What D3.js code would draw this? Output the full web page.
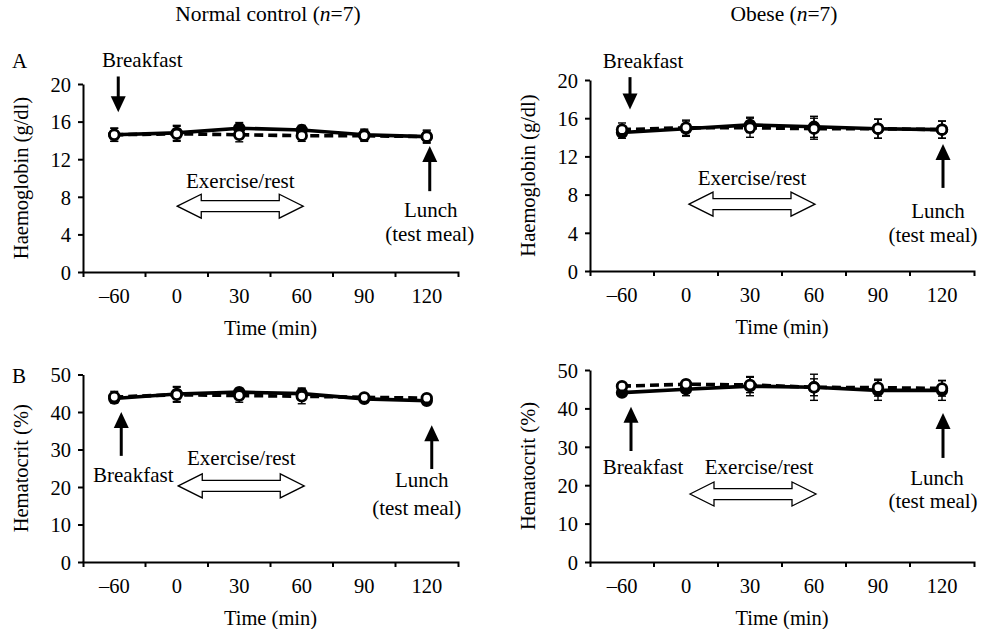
<!DOCTYPE html>
<html>
<head>
<meta charset="utf-8">
<script src="https://cdn.jsdelivr.net/npm/d3@7"></script>
<style>
  body { margin: 0; background: #fff; }
  svg text { font-family: "Liberation Serif", "Times New Roman", serif; fill: #000; }
</style>
</head>
<body>
<div id="chart"></div>
<script>
const times = ["\u201360", "0", "30", "60", "90", "120"];

// haemoglobin (g/dl): solid line = filled circles, dashed line = open circles
const hbNormalSolid = [14.6, 14.8, 15.3, 15.1, 14.6, 14.4];
const hbNormalSolidSd = [0.7, 0.8, 0.6, 0.5, 0.6, 0.7];
const hbNormalDashed = [14.6, 14.7, 14.6, 14.5, 14.5, 14.4];
const hbNormalDashedSd = [0.7, 0.8, 0.75, 0.6, 0.6, 0.6];

const hbObeseSolid = [14.5, 14.9, 15.3, 15.1, 14.9, 14.8];
const hbObeseSolidSd = [0.6, 0.8, 0.8, 1.1, 1.0, 0.9];
const hbObeseDashed = [14.8, 15.0, 15.0, 14.9, 14.9, 14.8];
const hbObeseDashedSd = [0.7, 0.8, 1.0, 1.1, 1.0, 0.9];

// hematocrit (%)
const hctNormalSolid = [43.6, 44.8, 45.3, 44.9, 43.5, 43.0];
const hctNormalSolidSd = [1.2, 2.0, 1.0, 1.5, 0.5, 0.5];
const hctNormalDashed = [44.0, 44.6, 44.4, 44.2, 43.9, 43.7];
const hctNormalDashedSd = [1.5, 2.0, 1.8, 2.0, 0.6, 0.5];

const hctObeseSolid = [44.1, 45.0, 45.8, 45.5, 44.7, 44.7];
const hctObeseSolidSd = [0.5, 1.7, 2.5, 3.4, 2.6, 2.6];
const hctObeseDashed = [45.8, 46.3, 46.1, 45.5, 45.4, 45.2];
const hctObeseDashedSd = [0.5, 1.0, 2.0, 2.2, 2.2, 2.0];

const hbTicks = [0, 4, 8, 12, 16, 20];
const hctTicks = [0, 10, 20, 30, 40, 50];

const svg = d3.select("#chart")
    .append("svg")
    .attr("width", 984)
    .attr("height", 629);

svg.append("text").attr("x", 268).attr("y", 21).attr("text-anchor", "middle")
    .style("font-size", "21.5px")
    .html("Normal control (<tspan font-style='italic'>n</tspan>=7)");
svg.append("text").attr("x", 784).attr("y", 21).attr("text-anchor", "middle")
    .style("font-size", "21.5px")
    .html("Obese (<tspan font-style='italic'>n</tspan>=7)");

svg.append("text").attr("x", 12).attr("y", 68).style("font-size", "21px").text("A");
svg.append("text").attr("x", 12).attr("y", 383).style("font-size", "21px").text("B");

function zip(m, s) {
    return m.map((v, i) => ({ t: times[i], v: v, sd: s[i] }));
}

function drawPanel(p) {
    const x = d3.scaleBand().domain(times).range([p.left, p.right]);
    const y = d3.scaleLinear().domain([0, p.max]).range([p.bottom, p.top]);
    const cx = (t) => x(t) + x.bandwidth() / 2;
    const g = svg.append("g");

    // axes
    const ya = g.append("g")
        .attr("transform", `translate(${p.left},0)`)
        .call(d3.axisLeft(y).tickValues(p.ticks).tickSize(5).tickSizeOuter(0));
    const xa = g.append("g")
        .attr("transform", `translate(0,${p.bottom})`)
        .call(d3.axisBottom(x).tickSizeInner(0).tickSizeOuter(5));
    xa.selectAll(".tick text").attr("y", 31).attr("dy", null);
    ya.selectAll(".tick text").attr("x", -12).attr("dy", "0.36em");
    g.selectAll(".domain").attr("stroke-width", 2);
    g.selectAll(".tick line").attr("stroke-width", 2);
    g.selectAll(".tick text").style("font-size", "20.5px").attr("fill", "#000")
        .style("font-family", "Liberation Serif, serif");

    // boundary ticks between categories
    xa.selectAll(".btick")
        .data(times.slice(1))
        .enter()
        .append("line")
        .attr("x1", (d) => x(d)).attr("x2", (d) => x(d))
        .attr("y1", 0).attr("y2", 5)
        .attr("stroke", "#000").attr("stroke-width", 2);

    g.append("text")
        .attr("transform", `translate(${p.left - 55},${(p.top + p.bottom) / 2}) rotate(-90)`)
        .attr("text-anchor", "middle")
        .style("font-size", "20.5px")
        .text(p.ylabel);
    g.append("text")
        .attr("x", (p.left + p.right) / 2).attr("y", p.bottom + 63)
        .attr("text-anchor", "middle")
        .style("font-size", "20.5px")
        .text("Time (min)");

    const series = [
        { data: zip(p.solid, p.solidSd), dash: null, fill: "#000" },
        { data: zip(p.dashed, p.dashedSd), dash: "9,5", fill: "#fff" }
    ];

    const line = d3.line().x((d) => cx(d.t)).y((d) => y(d.v));

    series.forEach((s) => {
        const eb = g.append("g").attr("stroke", "#000").attr("stroke-width", 1.4);
        eb.selectAll(".bar").data(s.data).enter().append("line")
            .attr("x1", (d) => cx(d.t)).attr("x2", (d) => cx(d.t))
            .attr("y1", (d) => y(d.v - d.sd)).attr("y2", (d) => y(d.v + d.sd));
        eb.selectAll(".capt").data(s.data).enter().append("line")
            .attr("x1", (d) => cx(d.t) - 4).attr("x2", (d) => cx(d.t) + 4)
            .attr("y1", (d) => y(d.v + d.sd)).attr("y2", (d) => y(d.v + d.sd));
        eb.selectAll(".capb").data(s.data).enter().append("line")
            .attr("x1", (d) => cx(d.t) - 4).attr("x2", (d) => cx(d.t) + 4)
            .attr("y1", (d) => y(d.v - d.sd)).attr("y2", (d) => y(d.v - d.sd));
    });

    series.forEach((s) => {
        g.append("path")
            .datum(s.data)
            .attr("d", line)
            .attr("fill", "none")
            .attr("stroke", "#000")
            .attr("stroke-width", 3.6)
            .attr("stroke-dasharray", s.dash);
        g.selectAll(null).data(s.data).enter().append("circle")
            .attr("cx", (d) => cx(d.t)).attr("cy", (d) => y(d.v))
            .attr("r", 4.8)
            .attr("fill", s.fill)
            .attr("stroke", "#000")
            .attr("stroke-width", 2.8);
    });

    // annotations
    const a = p.ann;
    function arrow(xp, yFrom, yTo) {
        const y0 = y(yFrom), y1 = y(yTo);
        const dir = y1 > y0 ? 1 : -1;
        g.append("line").attr("x1", xp).attr("x2", xp)
            .attr("y1", y0).attr("y2", y1 - dir * 12)
            .attr("stroke", "#000").attr("stroke-width", 3);
        g.append("path")
            .attr("d", `M${xp},${y1} L${xp - 7.5},${y1 - dir * 16} L${xp + 7.5},${y1 - dir * 16} Z`)
            .attr("fill", "#000");
    }
    function label(xp, yv, txt, anchor) {
        g.append("text").attr("x", xp).attr("y", y(yv))
            .attr("text-anchor", anchor || "middle")
            .style("font-size", "21px").text(txt);
    }

    arrow(cx(times[0]) + a.bx, a.bFrom, a.bTo);
    label(cx(times[0]) + a.btx, a.bty, "Breakfast");
    arrow(cx(times[5]) + a.lx, a.lFrom, a.lTo);
    label(cx(times[5]) + a.ltx, a.lty, "Lunch");
    label(cx(times[5]) + a.ltx2, a.lty2, "(test meal)");
    label(cx(times[2]) + a.etx, a.ety, "Exercise/rest");

    const mx = cx(times[2]) + a.dx, my = y(a.dy);
    const hl = 63, hd = 24, hh = 12, sh = 5.5;
    g.append("path")
        .attr("d", `M${mx - hl},${my} L${mx - hl + hd},${my - hh} L${mx - hl + hd},${my - sh}
            L${mx + hl - hd},${my - sh} L${mx + hl - hd},${my - hh} L${mx + hl},${my}
            L${mx + hl - hd},${my + hh} L${mx + hl - hd},${my + sh} L${mx - hl + hd},${my + sh}
            L${mx - hl + hd},${my + hh} Z`)
        .attr("fill", "#fff")
        .attr("stroke", "#000")
        .attr("stroke-width", 1.3);
}

drawPanel({
    left: 83, right: 458, top: 84, bottom: 272, max: 20, ticks: hbTicks,
    ylabel: "Haemoglobin (g/dl)",
    solid: hbNormalSolid, solidSd: hbNormalSolidSd, dashed: hbNormalDashed, dashedSd: hbNormalDashedSd,
    ann: { bx: 4, bFrom: 20.8, bTo: 17.0, btx: 28, bty: 21.76,
           lx: 3, lFrom: 8.6, lTo: 13.4, ltx: 4, lty: 5.8, ltx2: 3, lty2: 3.25,
           etx: 1, ety: 8.96, dx: 1, dy: 7.0 }
});

drawPanel({
    left: 590, right: 974, top: 80, bottom: 271, max: 20, ticks: hbTicks,
    ylabel: "Haemoglobin (g/dl)",
    solid: hbObeseSolid, solidSd: hbObeseSolidSd, dashed: hbObeseDashed, dashedSd: hbObeseDashedSd,
    ann: { bx: 8, bFrom: 20.3, bTo: 16.9, btx: 21, bty: 21.26,
           lx: 1, lFrom: 8.7, lTo: 13.3, ltx: -4, lty: 5.5, ltx2: -9, lty2: 3.0,
           etx: 2, ety: 9.0, dx: 2, dy: 7.0 }
});

drawPanel({
    left: 83, right: 458, top: 374.5, bottom: 562, max: 50, ticks: hctTicks,
    ylabel: "Hematocrit (%)",
    solid: hctNormalSolid, solidSd: hctNormalSolidSd, dashed: hctNormalDashed, dashedSd: hctNormalDashedSd,
    ann: { bx: 7, bFrom: 28.3, bTo: 40.0, btx: 19, bty: 21.3,
           lx: 5, lFrom: 24.8, lTo: 36.5, ltx: -5, lty: 20.0, ltx2: -10, lty2: 12.5,
           etx: 2, ety: 25.9, dx: 2, dy: 20.3 }
});

drawPanel({
    left: 590, right: 974, top: 370, bottom: 562, max: 50, ticks: hctTicks,
    ylabel: "Hematocrit (%)",
    solid: hctObeseSolid, solidSd: hctObeseSolidSd, dashed: hctObeseDashed, dashedSd: hctObeseDashedSd,
    ann: { bx: 9, bFrom: 28.9, bTo: 40.4, btx: 21, bty: 22.9,
           lx: 1, lFrom: 27.1, lTo: 38.8, ltx: -5, lty: 20.05, ltx2: -9, lty2: 14.06,
           etx: 9, ety: 22.9, dx: 3, dy: 17.7 }
});
</script>
</body>
</html>
